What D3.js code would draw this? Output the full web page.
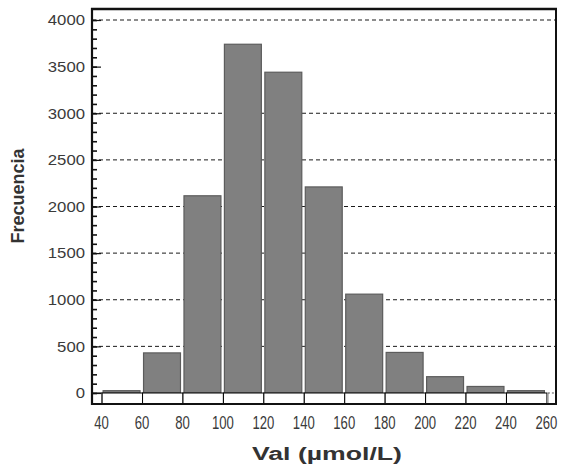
<!DOCTYPE html>
<html>
<head>
<meta charset="utf-8">
<script src="https://cdn.jsdelivr.net/npm/d3@7"></script>
<style>
  html, body { margin: 0; padding: 0; background: #fff; }
  svg { display: block; }
  text { font-family: Arial, "Liberation Sans", sans-serif; }
</style>
</head>
<body>
<svg id="chart" width="563" height="469"></svg>
<script>
// Histogram: bin lower edges (µmol/L) and counts per 20-unit bin
const binStarts = [40, 60, 80, 100, 120, 140, 160, 180, 200, 220, 240];
const binWidth = 20;
const frequencies = [25, 430, 2115, 3740, 3440, 2210, 1060, 435, 175, 70, 25];
const xTickValues = [40, 60, 80, 100, 120, 140, 160, 180, 200, 220, 240, 260];
const yMajorTicks = [0, 500, 1000, 1500, 2000, 2500, 3000, 3500, 4000];
const yGridValues = [500, 1000, 1500, 2000, 2500, 3000, 4000];
const xTitle = "Val (µmol/L)";
const yTitle = "Frecuencia";

const svg = d3.select("#chart");
const plotLeft = 92, plotRight = 556, plotTop = 9, plotBottom = 404;

const x = d3.scaleLinear().domain([35, 264.5]).range([plotLeft, plotRight]);
const y = d3.scaleLinear().domain([-118, 4118]).range([plotBottom, plotTop]);

// dashed gridlines behind the bars
svg.append("g").selectAll("line").data(yGridValues).join("line")
  .attr("x1", plotLeft).attr("x2", plotRight)
  .attr("y1", d => y(d)).attr("y2", d => y(d))
  .attr("stroke", "#1a1a1a").attr("stroke-width", 1)
  .attr("stroke-dasharray", "4,3");

// bars
svg.append("g").selectAll("rect").data(binStarts).join("rect")
  .attr("x", (d) => x(d) + 1)
  .attr("y", (d, i) => y(frequencies[i]))
  .attr("width", d => x(d + binWidth) - x(d) - 3.5)
  .attr("height", (d, i) => y(0) - y(frequencies[i]))
  .attr("fill", "#808080")
  .attr("stroke", "#5c5c5c")
  .attr("stroke-width", 1.2);

// white base cells under each bin (below zero line)
const cells = svg.append("g");
cells.append("rect")
  .attr("x", x(35)).attr("y", y(0))
  .attr("width", x(40) - x(35)).attr("height", plotBottom - y(0))
  .attr("fill", "#fff").attr("stroke", "#000").attr("stroke-width", 1);
cells.selectAll("rect.cell").data(binStarts).join("rect")
  .attr("class", "cell")
  .attr("x", d => x(d)).attr("y", y(0))
  .attr("width", d => x(d + binWidth) - x(d)).attr("height", plotBottom - y(0))
  .attr("fill", "#fff").attr("stroke", "#000").attr("stroke-width", 1);
cells.append("line")
  .attr("x1", x(260) + 1).attr("x2", x(260) + 1)
  .attr("y1", y(0)).attr("y2", plotBottom)
  .attr("stroke", "#999").attr("stroke-width", 1.5);
cells.append("line")
  .attr("x1", x(260) + 1).attr("x2", plotRight)
  .attr("y1", y(0)).attr("y2", y(0))
  .attr("stroke", "#555").attr("stroke-width", 1)
  .attr("stroke-dasharray", "2,2");

// y axis: minor ticks every 100, major ticks every 500 with labels
svg.append("g")
  .attr("transform", `translate(${plotLeft},0)`)
  .call(d3.axisLeft(y).tickValues(d3.range(0, 4001, 100)).tickSize(-5).tickFormat(""))
  .call(g => g.select(".domain").remove())
  .call(g => g.selectAll("line").attr("stroke", "#111").attr("stroke-width", 1.6));

svg.append("g")
  .attr("transform", `translate(${plotLeft},0)`)
  .call(d3.axisLeft(y).tickValues(yMajorTicks).tickSize(-9).tickPadding(7).tickFormat(d3.format("d")))
  .call(g => g.select(".domain").remove())
  .call(g => g.selectAll("line").attr("stroke", "#111").attr("stroke-width", 1.2))
  .call(g => g.selectAll("text")
    .attr("font-size", 15)
    .attr("fill", "#3a3a3a")
    .attr("textLength", d => String(d).length * 9.3)
    .attr("lengthAdjust", "spacingAndGlyphs"));

// x axis labels (bin edges)
svg.append("g")
  .attr("transform", `translate(0,${plotBottom})`)
  .call(d3.axisBottom(x).tickValues(xTickValues).tickSize(0).tickPadding(12).tickFormat(d3.format("d")))
  .call(g => g.select(".domain").remove())
  .call(g => g.selectAll("text")
    .attr("font-size", 18)
    .attr("fill", "#3a3a3a")
    .attr("dx", -1)
    .attr("textLength", d => String(d).length * 7.3)
    .attr("lengthAdjust", "spacingAndGlyphs"));

// frame
const frame = svg.append("g").attr("stroke", "#111").attr("fill", "none");
frame.append("line").attr("x1", plotLeft).attr("x2", plotLeft).attr("y1", plotTop - 1).attr("y2", plotBottom + 1).attr("stroke-width", 2.2);
frame.append("line").attr("x1", plotLeft).attr("x2", plotRight + 1).attr("y1", plotBottom).attr("y2", plotBottom).attr("stroke-width", 2);
frame.append("line").attr("x1", plotLeft - 1).attr("x2", plotRight + 1).attr("y1", plotTop).attr("y2", plotTop).attr("stroke-width", 2.6);
frame.append("line").attr("x1", plotRight).attr("x2", plotRight).attr("y1", plotTop).attr("y2", plotBottom).attr("stroke-width", 2);

// axis titles
svg.append("text")
  .attr("x", 327).attr("y", 460)
  .attr("text-anchor", "middle")
  .attr("font-size", 18).attr("font-weight", "bold")
  .attr("fill", "#333")
  .attr("textLength", 150).attr("lengthAdjust", "spacingAndGlyphs")
  .text(xTitle);

svg.append("text")
  .attr("transform", "translate(24,196) rotate(-90)")
  .attr("text-anchor", "middle")
  .attr("font-size", 18).attr("font-weight", "bold")
  .attr("fill", "#333")
  .text(yTitle);
</script>
</body>
</html>
